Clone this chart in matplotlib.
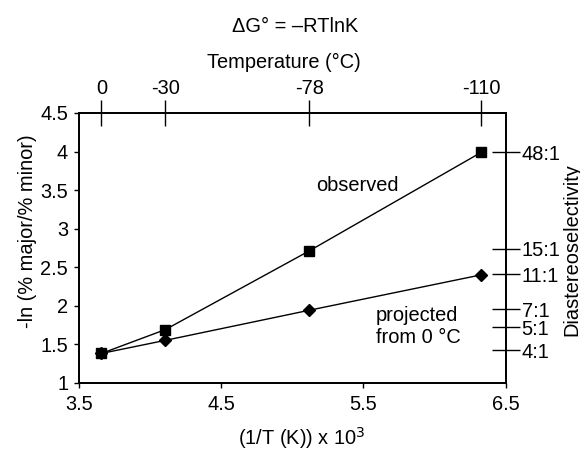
import matplotlib
matplotlib.use("Agg")
import matplotlib.pyplot as plt
from matplotlib.ticker import FuncFormatter

plt.rcParams['font.family'] = ['Liberation Sans', 'DejaVu Sans']

# Data
inv_T = [3.66, 4.11, 5.12, 6.33]             # (1/T (K)) x 10^3
temp_labels = ['0', '-30', '-78', '-110']      # Temperature (°C)
observed = [1.38, 1.69, 2.71, 3.99]
projected = [1.38, 1.55, 1.94, 2.40]
ds_positions = [3.99, 2.74, 2.41, 1.95, 1.72, 1.42]
ds_labels = ['48:1', '15:1', '11:1', '7:1', '5:1', '4:1']
x_ticks = [3.5, 4.5, 5.5, 6.5]
y_ticks = [1, 1.5, 2, 2.5, 3, 3.5, 4, 4.5]

FS = 14.4
fig = plt.figure(figsize=(5.8, 4.58), dpi=100)
ax = fig.add_axes([0.1357, 0.1644, 0.7359, 0.5889])

ax.plot(inv_T, observed, color='black', lw=1.0, marker='s', markersize=7.6,
        markerfacecolor='black', zorder=3)
ax.plot(inv_T, projected, color='black', lw=1.0, marker='D', markersize=6.5,
        markerfacecolor='black', zorder=3)

ax.set_xlim(3.5, 6.5)
ax.set_ylim(1, 4.5)
ax.set_xticks(x_ticks)
ax.set_yticks(y_ticks)
fmt = FuncFormatter(lambda v, p: '%g' % v)
ax.xaxis.set_major_formatter(fmt)
ax.yaxis.set_major_formatter(fmt)
ax.tick_params(axis='both', direction='out', length=3.6, width=1.0,
               labelsize=FS, pad=4)
ax.tick_params(axis='x', pad=5)
for s in ax.spines.values():
    s.set_linewidth(1.1)

ax.set_xlabel('(1/T (K)) x 10$^3$', fontsize=FS, va='center')
ax.xaxis.set_label_coords(0.5225, -0.205)
ax.set_ylabel('-ln (% major/% minor)', fontsize=FS, va='center')
ax.yaxis.set_label_coords(-0.12, 0.56)

# Top axis: temperature
axt = ax.twiny()
axt.set_xlim(ax.get_xlim())
axt.set_xticks(inv_T)
axt.set_xticklabels(temp_labels)
axt.tick_params(axis='x', direction='inout', length=19, width=1.0,
                labelsize=FS, pad=1.5)
axt.set_xlabel('Temperature (°C)', fontsize=FS, va='center')
axt.xaxis.set_label_coords(0.48, 1.189)

# Right axis: diastereoselectivity
axr = ax.twinx()
axr.set_ylim(ax.get_ylim())
axr.set_yticks(ds_positions)
axr.set_yticklabels(ds_labels)
axr.tick_params(axis='y', direction='inout', length=20, width=1.0,
                labelsize=FS, pad=1.5)
axr.set_ylabel('Diastereoselectivity', fontsize=FS, va='center')
axr.yaxis.set_label_coords(1.155, 0.492)
for a in (axt, axr):
    for s in a.spines.values():
        s.set_linewidth(1.1)

ax.text(5.172, 3.562, 'observed', fontsize=FS, ha='left', va='center')
ax.text(5.589, 1.732, 'projected\nfrom 0 °C', fontsize=FS, ha='left',
        va='center', linespacing=1.2)

fig.text(295 / 580, 1 - 26 / 458, 'ΔG° = \u2013RTlnK', fontsize=FS,
         ha='center', va='center')

fig.savefig('out.png', dpi=100)
